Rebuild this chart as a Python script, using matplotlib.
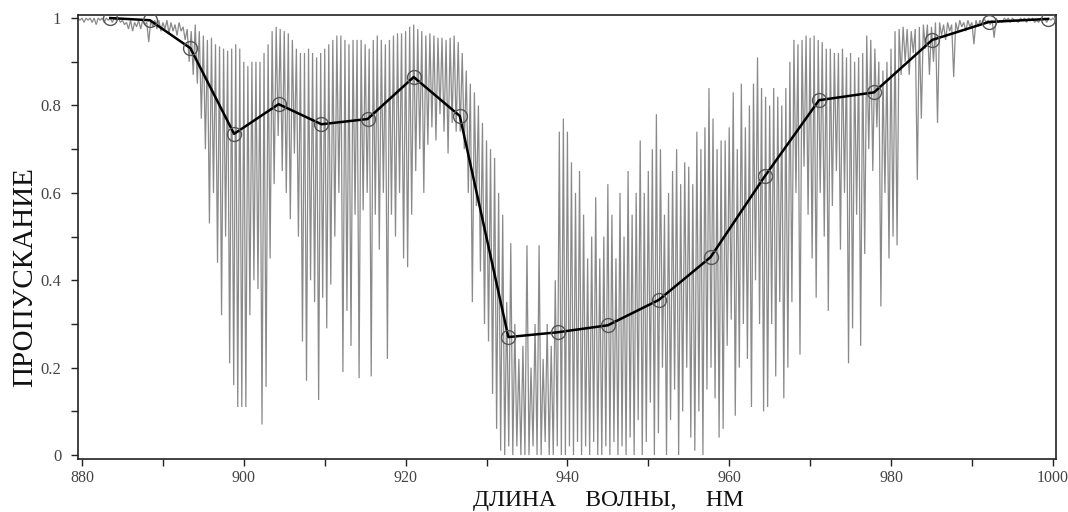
import numpy as np
import matplotlib
matplotlib.use('Agg')
import matplotlib.pyplot as plt

# spectrum on a 0.5 nm grid: upper envelope and line dips
wl_start, wl_step = 879.5, 0.5
spec_top = [
    1.0, 1.0, 1.0, 1.0, 1.0, 1.0, 1.0, 1.0, 1.0, 1.0,
    1.0, 0.995, 0.99, 0.995, 0.99, 0.995, 0.995, 0.99, 0.995, 0.995,
    0.995, 0.99, 0.995, 0.99, 0.985, 0.99, 0.98, 0.975, 0.97, 0.985,
    0.97, 0.96, 0.95, 0.955, 0.94, 0.935, 0.93, 0.925, 0.93, 0.94,
    0.93, 0.9, 0.89, 0.9, 0.9, 0.9, 0.92, 0.94, 0.97, 0.98,
    0.975, 0.97, 0.965, 0.95, 0.93, 0.92, 0.92, 0.93, 0.92, 0.91,
    0.92, 0.93, 0.94, 0.95, 0.96, 0.96, 0.95, 0.94, 0.95, 0.95,
    0.95, 0.94, 0.93, 0.95, 0.96, 0.95, 0.94, 0.95, 0.96, 0.965,
    0.965, 0.97, 0.98, 0.985, 0.975, 0.97, 0.96, 0.965, 0.96, 0.955,
    0.955, 0.95, 0.955, 0.96, 0.945, 0.92, 0.88, 0.85, 0.83, 0.8,
    0.76, 0.72, 0.7, 0.68, 0.6, 0.55, 0.35, 0.485, 0.3, 0.22,
    0.25, 0.48, 0.2, 0.3, 0.48, 0.22, 0.3, 0.25, 0.4, 0.74,
    0.77, 0.74, 0.67, 0.6, 0.65, 0.55, 0.45, 0.5, 0.59, 0.45,
    0.5, 0.62, 0.55, 0.45, 0.6, 0.5, 0.65, 0.55, 0.6, 0.72,
    0.6, 0.65, 0.7, 0.78, 0.7, 0.55, 0.6, 0.65, 0.7, 0.62,
    0.67, 0.66, 0.62, 0.74, 0.7, 0.75, 0.84, 0.77, 0.7, 0.72,
    0.72, 0.75, 0.83, 0.7, 0.85, 0.75, 0.8, 0.85, 0.91, 0.84,
    0.82, 0.8, 0.84, 0.82, 0.8, 0.84, 0.9, 0.95, 0.94, 0.95,
    0.96, 0.955, 0.96, 0.95, 0.945, 0.93, 0.93, 0.92, 0.92, 0.93,
    0.91, 0.92, 0.9, 0.91, 0.92, 0.96, 0.95, 0.93, 0.9, 0.88,
    0.9, 0.93, 0.97, 0.975, 0.98, 0.975, 0.97, 0.975, 0.98, 0.985,
    0.985, 0.98, 0.99, 0.99, 0.985, 0.99, 0.985, 0.99, 0.995, 0.99,
    0.995, 0.99, 0.995, 0.995, 1.0, 0.995, 0.995, 1.0, 0.995, 1.0,
    1.0, 1.0, 0.995, 1.0, 1.0, 1.0, 1.0, 0.995, 1.0, 1.0,
    1.0, 1.0,
]
spec_bot = [
    0.995, 0.99, 0.995, 0.99, 0.985, 0.995, 0.99, 0.995, 0.99, 0.995,
    0.99, 0.985, 0.975, 0.97, 0.98, 0.975, 0.985, 0.945, 0.98, 0.975,
    0.97, 0.975, 0.965, 0.97, 0.96, 0.97, 0.95, 0.9, 0.87, 0.85,
    0.77, 0.7, 0.53, 0.6, 0.44, 0.32, 0.5, 0.21, 0.16, 0.11,
    0.11, 0.11, 0.32, 0.4, 0.38, 0.07, 0.156, 0.45, 0.62, 0.73,
    0.65, 0.6, 0.54, 0.69, 0.5, 0.26, 0.17, 0.4, 0.35, 0.126,
    0.36, 0.29, 0.39, 0.5, 0.6, 0.19, 0.33, 0.25, 0.55, 0.176,
    0.56, 0.6, 0.18, 0.55, 0.47, 0.6, 0.22, 0.55, 0.5, 0.6,
    0.45, 0.43, 0.55, 0.65, 0.7, 0.6, 0.71, 0.75, 0.72, 0.78,
    0.74, 0.69, 0.76, 0.74, 0.74, 0.7, 0.6, 0.35, 0.57, 0.42,
    0.3, 0.26, 0.14, 0.06, 0.01, 0.0, 0.02, 0.0, 0.02, 0.0,
    0.0, 0.0, 0.02, 0.0, 0.0, 0.03, 0.0, 0.0, 0.02, 0.0,
    0.0, 0.02, 0.0, 0.03, 0.0, 0.02, 0.0, 0.03, 0.0, 0.0,
    0.02, 0.0, 0.03, 0.0, 0.02, 0.0, 0.04, 0.0, 0.08, 0.0,
    0.03, 0.12, 0.0, 0.05, 0.2, 0.0, 0.08, 0.15, 0.0, 0.1,
    0.2, 0.04, 0.01, 0.1, 0.0, 0.15, 0.2, 0.13, 0.04, 0.06,
    0.25, 0.31, 0.09, 0.2, 0.3, 0.22, 0.11, 0.4, 0.3, 0.1,
    0.11, 0.3, 0.18, 0.35, 0.13, 0.2, 0.35, 0.6, 0.23, 0.66,
    0.55, 0.45, 0.36, 0.6, 0.5, 0.33, 0.57, 0.65, 0.47, 0.6,
    0.21, 0.29, 0.55, 0.25, 0.46, 0.7, 0.65, 0.75, 0.34, 0.6,
    0.45, 0.5, 0.48, 0.87, 0.9, 0.87, 0.92, 0.63, 0.77, 0.93,
    0.87, 0.9, 0.76, 0.96, 0.95, 0.97, 0.865, 0.97, 0.98, 0.97,
    0.98, 0.94, 0.98, 0.985, 0.99, 0.985, 0.955, 0.99, 0.99, 0.995,
    0.99, 0.995, 0.99, 0.995, 0.99, 0.995, 0.99, 0.99, 0.995, 0.99,
    0.995, 0.995,
]

# averaged transmission (black line with circles)
avg_wl = [883.5, 888.4, 893.4, 898.8, 904.3, 909.6, 915.3, 921.0, 926.7, 932.7,
          938.8, 945.0, 951.3, 957.7, 964.4, 971.1, 977.9, 985.1, 992.1, 999.4]
avg_tr = [1.0, 0.995, 0.931, 0.735, 0.803, 0.757, 0.769, 0.865, 0.776, 0.27,
          0.281, 0.297, 0.355, 0.453, 0.638, 0.812, 0.83, 0.95, 0.991, 0.998]

x_ticks = [880, 900, 920, 940, 960, 980, 1000]
y_ticks = [0, 0.2, 0.4, 0.6, 0.8, 1]
y_tick_labels = ['0', '0.2', '0.4', '0.6', '0.8', '1']

plt.rcParams['font.family'] = ['Liberation Serif', 'DejaVu Serif']

fig = plt.figure(figsize=(10.68, 5.12), dpi=100)
ax = fig.add_axes([0.073, 0.1035, 0.9158, 0.8672])

# zigzag path: each grid point goes to its top, then down to its dip
top = np.asarray(spec_top)
bot = np.asarray(spec_bot)
wl = wl_start + wl_step * np.arange(len(top))
xs = np.column_stack([wl, wl + wl_step / 2]).ravel()
ys = np.column_stack([top, bot]).ravel()
ax.plot(xs, ys, color='#8a8a8a', linewidth=0.9, solid_joinstyle='miter')

ax.plot(avg_wl, avg_tr, color='black', linewidth=1.8, zorder=3)
ax.plot(avg_wl, avg_tr, linestyle='none', marker='o', markersize=10,
        markerfacecolor='none', markeredgecolor='#555555', markeredgewidth=1.0, zorder=4)

ax.set_xlim(879.5, 1000.4)
ax.set_ylim(-0.009, 1.007)
ax.set_xticks(x_ticks)
ax.set_xticks([890, 910, 930, 950, 970, 990], minor=True)
ax.set_yticks(y_ticks)
ax.set_yticklabels(y_tick_labels)
ax.set_yticks([0.1, 0.3, 0.5, 0.7, 0.9], minor=True)
ax.tick_params(which='both', direction='out', length=5, width=1, colors='#222222',
               labelsize=12, labelcolor='#444444')
ax.tick_params(axis='x', pad=3, labelsize=11.5)
ax.tick_params(axis='y', pad=7)
for s in ax.spines.values():
    s.set_linewidth(1.2)
    s.set_color('#222222')

fig.text(608 / 1068, 6 / 512, 'ДЛИНА     ВОЛНЫ,     НМ', ha='center', va='baseline',
         fontsize=17, color='#111111')
fig.text(25 / 1068, 1 - 277 / 512, 'ПРОПУСКАНИЕ', ha='center', va='center',
         rotation=90, fontsize=21, color='#111111')

fig.savefig('out.png', dpi=100)
